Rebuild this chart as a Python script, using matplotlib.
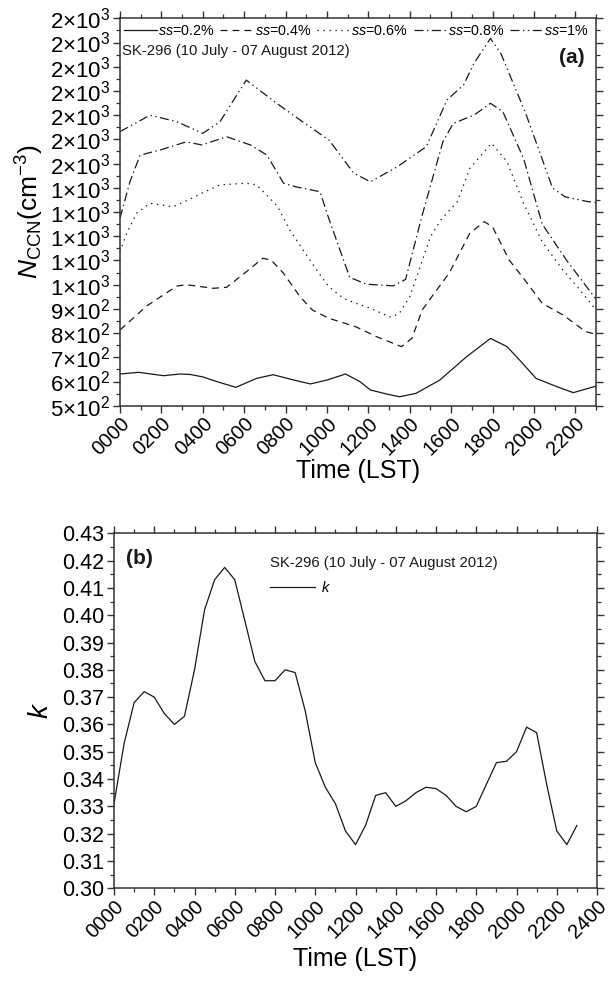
import numpy as np
import matplotlib
matplotlib.use('Agg')
import matplotlib.pyplot as plt
from matplotlib.ticker import MultipleLocator, FixedLocator, FormatStrFormatter

plt.rcParams['font.family'] = ['Liberation Sans', 'DejaVu Sans']
plt.rcParams['mathtext.fontset'] = 'custom'
plt.rcParams['mathtext.rm'] = 'Liberation Sans'
plt.rcParams['mathtext.it'] = 'Liberation Sans:italic'
plt.rcParams['mathtext.bf'] = 'Liberation Sans:bold'
plt.rcParams['lines.scale_dashes'] = False

# ---- data (a): N_CCN at each supersaturation, time in hours LST
t02 = [0, 0.9, 2.1, 2.9, 3.4, 4.0, 4.7, 5.6, 6.6, 7.4, 8.4, 9.2, 10.0, 10.9, 11.6, 12.1,
       12.9, 13.5, 14.3, 15.45, 16.74, 17.9, 18.7, 19.4, 20.1, 21.1, 21.9, 23]
n02 = [631, 638, 624, 631, 629, 619, 599, 576, 613, 628, 606, 590, 606, 631, 599, 565,
       548, 537, 551, 606, 702, 778, 744, 680, 613, 579, 554, 581]

t04 = [0, 1.29, 2.74, 3.2, 4.5, 5.15, 6.1, 6.9, 7.3, 7.9, 8.7, 9.3, 10.1, 11.4, 12.4,
       13.6, 14.1, 14.6, 15.3, 15.9, 16.9, 17.6, 18.0, 18.8, 19.5, 20.4, 21.4, 22.5, 23]
n04 = [813, 912, 994, 1000, 985, 989, 1053, 1109, 1102, 1047, 950, 895, 861, 826, 785,
       744, 778, 895, 978, 1047, 1212, 1260, 1239, 1102, 1026, 923, 875, 806, 795]

t06 = [0, 0.32, 0.8, 1.45, 2.56, 3.3, 4.0, 4.83, 6.1, 6.6, 7.6, 8.2, 8.85, 9.5, 10.1, 10.8,
       11.4, 12.1, 13.1, 13.5, 14.0, 14.5, 15.0, 15.5, 16.3, 16.9, 17.95, 18.7, 19.5, 20.4,
       21.4, 22.1, 23]
n06 = [1136, 1212, 1295, 1336, 1322, 1350, 1380, 1412, 1419, 1412, 1325, 1226, 1143, 1060,
       991, 943, 923, 902, 865, 882, 950, 1074, 1198, 1267, 1343, 1480, 1584, 1508, 1336,
       1177, 1060, 991, 895]

t08 = [0, 0.48, 0.97, 1.93, 3.2, 3.95, 5.15, 6.3, 7.1, 7.9, 8.5, 9.66, 10.1, 11.1, 11.9,
       13.2, 13.8, 14.6, 15.6, 16.1, 17.1, 17.9, 18.5, 19.5, 20.4, 21.6, 23]
n08 = [1275, 1425, 1535, 1556, 1590, 1577, 1611, 1577, 1535, 1419, 1404, 1384, 1270, 1030,
       1002, 995, 1022, 1287, 1590, 1666, 1700, 1749, 1714, 1521, 1250, 1098, 940]

t10 = [0, 1.45, 2.74, 4.0, 4.83, 6.1, 7.57, 8.7, 10.1, 11.3, 12.1, 13.4, 14.8, 15.8, 16.6,
       17.1, 17.9, 18.4, 19.6, 20.9, 21.5, 22.6, 23]
n10 = [1632, 1700, 1673, 1625, 1673, 1845, 1749, 1680, 1597, 1460, 1425, 1487, 1570, 1763,
       1825, 1914, 2017, 1955, 1708, 1399, 1363, 1343, 1340]

ss_labels = ['$ss$=0.2%', '$ss$=0.4%', '$ss$=0.6%', '$ss$=0.8%', '$ss$=1%']

# ---- data (b): hygroscopicity k
tk = [0, 0.5, 1.0, 1.5, 2.0, 2.5, 3.0, 3.5, 4.0, 4.5, 5.0, 5.5, 6.0, 6.5, 7.0, 7.5, 8.0,
      8.5, 9.0, 9.5, 10.0, 10.5, 11.0, 11.5, 12.0, 12.5, 13.0, 13.5, 14.0, 14.5, 15.0,
      15.5, 16.0, 16.5, 17.0, 17.5, 18.0, 18.5, 19.0, 19.5, 20.0, 20.5, 21.0, 21.5, 22.0,
      22.5, 23.0]
kval = [0.331, 0.353, 0.368, 0.372, 0.370, 0.364, 0.360, 0.363, 0.380, 0.402, 0.413, 0.4175,
        0.413, 0.398, 0.383, 0.376, 0.376, 0.380, 0.379, 0.365, 0.346, 0.337, 0.331, 0.321,
        0.316, 0.323, 0.334, 0.335, 0.330, 0.332, 0.335, 0.337, 0.3365, 0.334, 0.330, 0.328,
        0.330, 0.338, 0.346, 0.3465, 0.350, 0.359, 0.357, 0.338, 0.321, 0.316, 0.323]

ytick_a = list(range(500, 2101, 100))
ylab_a = ['5$\\times$10$^2$', '6$\\times$10$^2$', '7$\\times$10$^2$', '8$\\times$10$^2$',
          '9$\\times$10$^2$'] + ['1$\\times$10$^3$'] * 5 + ['2$\\times$10$^3$'] * 7
xlab_a = ['0000', '0200', '0400', '0600', '0800', '1000', '1200', '1400', '1600', '1800',
          '2000', '2200']
xlab_b = xlab_a + ['2400']

fig = plt.figure(figsize=(6.12, 9.85), dpi=100)
ink = '#1a1a1a'
spc = '#333333'


def style_axes(ax, ysize, xsize):
    for s in ax.spines.values():
        s.set_linewidth(1.1)
        s.set_color(spc)
    ax.tick_params(which='major', direction='out', length=5, width=1.0, color=spc,
                   pad=2, top=True, right=True, labeltop=False, labelright=False)
    ax.tick_params(which='minor', direction='out', length=3, width=0.9, color=spc,
                   top=True, right=True)
    ax.tick_params(axis='y', which='major', labelsize=ysize)
    ax.tick_params(axis='x', which='major', labelsize=xsize, pad=1)


# ---------------- panel (a)
ax1 = fig.add_axes([0.1961, 0.5881, 0.7778, 0.3933])
lw = 0.9
ax1.plot(t02, n02, color=ink, lw=lw, ls='-', label=ss_labels[0])
ax1.plot(t04, n04, color=ink, lw=lw, ls=(0, (5, 3.6)), label=ss_labels[1])
ax1.plot(t06, n06, color=ink, lw=lw, ls=(0, (1, 3.3)), label=ss_labels[2])
ax1.plot(t08, n08, color=ink, lw=lw, ls=(0, (6.5, 2.5, 1, 2.5)), label=ss_labels[3])
ax1.plot(t10, n10, color=ink, lw=lw, ls=(0, (6.5, 2.5, 1, 2.5, 1, 2.5)), label=ss_labels[4])
ax1.set_xlim(0, 23)
ax1.set_ylim(500, 2100)
ax1.yaxis.set_major_locator(FixedLocator(ytick_a))
ax1.set_yticklabels(ylab_a)
ax1.yaxis.set_minor_locator(MultipleLocator(50))
ax1.set_xticks(range(0, 23, 2))
ax1.set_xticklabels(xlab_a, rotation=45, ha='right', rotation_mode='anchor')
ax1.xaxis.set_minor_locator(MultipleLocator(1))
style_axes(ax1, 16, 14.5)
ax1.set_xlabel('Time (LST)', fontsize=18, labelpad=0)
ax1.set_ylabel('$N_{\\mathrm{CCN}}$(cm$^{-3}$)', fontsize=19, labelpad=3)
ax1.legend(loc='upper left', bbox_to_anchor=(-0.004, 1.0), ncol=5, frameon=False,
           fontsize=10.3, handlelength=2.3, handletextpad=0.1, columnspacing=0.4,
           borderaxespad=0.0)
ax1.text(0.005, 0.9156, 'SK-296 (10 July - 07 August 2012)', transform=ax1.transAxes,
         fontsize=10.7, ha='left', va='center', color=ink)
ax1.text(0.975, 0.898, '(a)', transform=ax1.transAxes, fontsize=15, fontweight='bold',
         ha='right', va='center', color=ink)

# ---------------- panel (b)
ax2 = fig.add_axes([0.1863, 0.0982, 0.7892, 0.3604])
ax2.plot(tk, kval, color=ink, lw=0.9, label='$k$')
ax2.set_xlim(0, 24)
ax2.set_ylim(0.30, 0.43)
ax2.set_yticks(np.round(np.arange(0.30, 0.4301, 0.01), 2))
ax2.yaxis.set_major_formatter(FormatStrFormatter('%.2f'))
ax2.yaxis.set_minor_locator(MultipleLocator(0.005))
ax2.set_xticks(range(0, 25, 2))
ax2.set_xticklabels(xlab_b, rotation=45, ha='right', rotation_mode='anchor')
ax2.xaxis.set_minor_locator(MultipleLocator(1))
style_axes(ax2, 15.5, 14.5)
ax2.set_xlabel('Time (LST)', fontsize=18, labelpad=4)
ax2.set_ylabel('$k$', fontsize=20, labelpad=6)
ax2.text(0.323, 0.915, 'SK-296 (10 July - 07 August 2012)', transform=ax2.transAxes,
         fontsize=10.7, ha='left', va='center', color=ink)
ax2.legend(loc='upper left', bbox_to_anchor=(0.31, 0.885), frameon=False, fontsize=10.5,
           handlelength=3.1, handletextpad=0.4, borderaxespad=0.0)
ax2.text(0.025, 0.93, '(b)', transform=ax2.transAxes, fontsize=15, fontweight='bold',
         ha='left', va='center', color=ink)

fig.savefig('out.png', dpi=100)
